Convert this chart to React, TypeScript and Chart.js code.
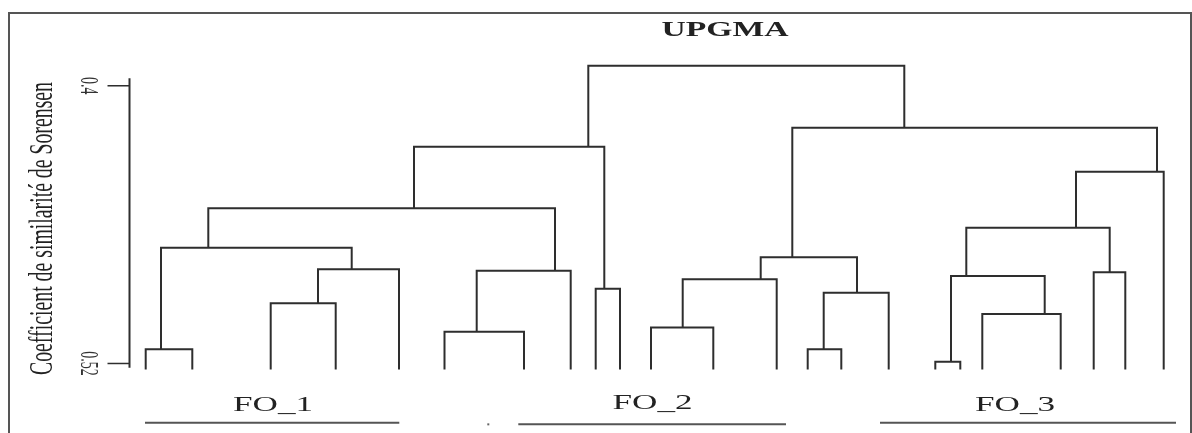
import React, { useEffect, useRef } from "react";
import { Chart, registerables } from "chart.js";

Chart.register(...registerables);

// ---- Data ----
// Leaf positions along the horizontal axis (23 leaves, left to right)
const leafX = [
  1.57, 6.23, 14.07, 20.57, 26.9, 31.45, 39.4, 44.07, 46.57, 49.0, 52.1, 58.33,
  64.67, 67.77, 71.13, 75.87, 80.53, 83.03, 85.23, 93.07, 96.37, 99.53, 103.37,
];
const leafHeight = 0.5226;

// R-style merge matrix: negative = leaf index, positive = earlier merge row (1-based)
const mergeLeft = [-1, -3, 2, 1, -6, 5, 4, -9, 7, -11, 10, -14, 12, 11, -17, -19, 15, -21, 17, 19, 14, 9];
const mergeRight = [-2, -4, -5, 3, -7, -8, 6, -10, 8, -12, -13, -15, -16, 13, -18, -20, 16, -22, 18, -23, 20, 21];
const mergeHeight = [
  0.5139, 0.494, 0.4793, 0.47, 0.5063, 0.4799, 0.4529, 0.4877, 0.4263, 0.5045, 0.4836,
  0.5139, 0.4894, 0.4741, 0.5192, 0.4986, 0.4822, 0.4806, 0.4613, 0.4371, 0.4181, 0.3914,
];
const mergeX = [
  3.1, 18.8, 22.17, 7.83, 34.67, 42.5, 28.4, 47.43, 45.83, 55.27, 63.07,
  69.37, 72.7, 66.23, 82.1, 91.47, 83.63, 97.97, 94.6, 102.7, 77.43, 61.63,
];

// Axis
const yTicks = [0.4, 0.52];
const yTickLabels = ["0.4", "0.52"];
const axisStart = 0.3967;
const axisEnd = 0.5218;
const yAxisTitle = "Coefficient de similarité de Sorensen";
const chartTitle = "UPGMA";

// Group annotations
const groupNames = ["FO_1", "FO_2", "FO_3"];
const groupCenter = [14.3, 52.25, 88.5];
const groupStart = [1.5, 38.83, 75.0];
const groupEnd = [26.93, 65.6, 104.6];
const groupLabelY = [0.5405, 0.5397, 0.5405];
const groupLineY = [0.5456, 0.5463, 0.5456];
const strayDot = { x: 35.83, y: 0.5463 };

const LINE = "#2e2e2e";

function childX(c: number): number {
  return c < 0 ? leafX[-c - 1] : mergeX[c - 1];
}
function childH(c: number): number {
  return c < 0 ? leafHeight : mergeHeight[c - 1];
}

function drawText(
  ctx: CanvasRenderingContext2D,
  text: string,
  x: number,
  y: number,
  font: string,
  opts: {
    sx?: number;
    sy?: number;
    rot?: number;
    fitWidth?: number;
    fitAlong?: number;
    align?: CanvasTextAlign;
    baseline?: CanvasTextBaseline;
    color?: string;
  }
) {
  ctx.save();
  ctx.font = font;
  const w = ctx.measureText(text).width;
  let sx = opts.sx ?? 1;
  let sy = opts.sy ?? 1;
  if (opts.fitWidth) sx = opts.fitWidth / w;
  if (opts.fitAlong) sy = opts.fitAlong / w;
  ctx.translate(x, y);
  ctx.scale(sx, sy);
  ctx.rotate(opts.rot ?? 0);
  ctx.textAlign = opts.align ?? "center";
  ctx.textBaseline = opts.baseline ?? "alphabetic";
  ctx.fillStyle = opts.color ?? "#222";
  ctx.fillText(text, 0, 0);
  ctx.restore();
}

const decorPlugin = {
  id: "dendroDecor",
  afterDraw(chart: any) {
    const ctx: CanvasRenderingContext2D = chart.ctx;
    const xs = chart.scales.x;
    const ys = chart.scales.y;
    const area = chart.chartArea;
    ctx.save();

    // y axis bracket
    const ax = area.left - 0.5;
    ctx.strokeStyle = LINE;
    ctx.lineWidth = 2;
    ctx.beginPath();
    ctx.moveTo(ax, ys.getPixelForValue(axisStart));
    ctx.lineTo(ax, ys.getPixelForValue(axisEnd));
    ctx.stroke();
    ctx.lineWidth = 1.5;
    yTicks.forEach((t, i) => {
      const py = ys.getPixelForValue(t);
      ctx.beginPath();
      ctx.moveTo(ax - 22, py);
      ctx.lineTo(ax, py);
      ctx.stroke();
      drawText(ctx, yTickLabels[i], ax - 49, py, '14px "Liberation Serif"', {
        sx: 1.8,
        rot: Math.PI / 2,
        align: "center",
        baseline: "alphabetic",
        color: "#333",
      });
    });

    // y axis title
    drawText(ctx, yAxisTitle, 51.5, 228.5, '19.5px "Liberation Serif"', {
      sx: 1.7,
      fitAlong: 293,
      rot: -Math.PI / 2,
      align: "center",
      baseline: "alphabetic",
      color: "#222",
    });

    // chart title
    drawText(ctx, chartTitle, 725, 36, 'bold 21px "Liberation Serif"', {
      fitWidth: 127,
      align: "center",
      color: "#222",
    });

    // group labels and underlines
    groupNames.forEach((g, i) => {
      drawText(ctx, g, xs.getPixelForValue(groupCenter[i]), ys.getPixelForValue(groupLabelY[i]), '22px "Liberation Serif"', {
        fitWidth: 80,
        align: "center",
        color: "#222",
      });
      const ly = ys.getPixelForValue(groupLineY[i]);
      ctx.strokeStyle = "#555";
      ctx.lineWidth = 2;
      ctx.beginPath();
      ctx.moveTo(xs.getPixelForValue(groupStart[i]), ly);
      ctx.lineTo(xs.getPixelForValue(groupEnd[i]), ly);
      ctx.stroke();
    });
    ctx.fillStyle = "#666";
    ctx.fillRect(xs.getPixelForValue(strayDot.x) - 1, ys.getPixelForValue(strayDot.y) - 1, 2, 2);

    ctx.restore();
  },
};

export default function App() {
  const canvasRef = useRef<HTMLCanvasElement | null>(null);

  useEffect(() => {
    const canvas = canvasRef.current;
    if (!canvas) return;
    const datasets = mergeLeft.map((l, i) => {
      const r = mergeRight[i];
      const h = mergeHeight[i];
      return {
        label: "merge " + (i + 1),
        data: [
          { x: childX(l), y: childH(l) },
          { x: childX(l), y: h },
          { x: childX(r), y: h },
          { x: childX(r), y: childH(r) },
        ],
        showLine: true,
        borderColor: LINE,
        borderWidth: 2,
        pointRadius: 0,
        pointHoverRadius: 0,
        tension: 0,
        fill: false,
        clip: false as any,
        borderJoinStyle: "miter" as const,
      };
    });
    const chart = new Chart(canvas, {
      type: "scatter",
      data: { datasets },
      options: {
        responsive: false,
        animation: false,
        layout: { padding: { left: 130, right: 12, top: 58, bottom: 51 } },
        scales: {
          x: { type: "linear", min: 0, max: 105, display: false },
          y: { type: "linear", min: 0.388, max: 0.528, reverse: true, display: false },
        },
        plugins: {
          legend: { display: false },
          tooltip: { enabled: false },
          title: { display: false },
        },
        events: [],
      },
      plugins: [decorPlugin],
    });
    return () => chart.destroy();
  }, []);

  return (
    <div style={{ position: "absolute", left: 0, top: 0, width: 1192, height: 433, background: "#fff", overflow: "hidden" }}>
      <div
        style={{
          position: "absolute",
          left: 8,
          top: 12,
          width: 1180,
          height: 430,
          borderLeft: "2px solid #555",
          borderTop: "2px solid #555",
          borderRight: "2px solid #555",
        }}
      />
      <canvas ref={canvasRef} width={1192} height={433} style={{ position: "absolute", left: 0, top: 0, display: "block" }} />
    </div>
  );
}
